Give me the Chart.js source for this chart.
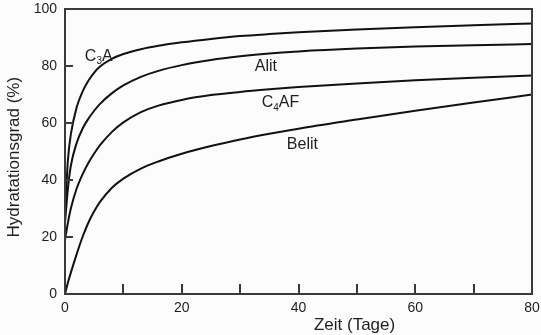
<!DOCTYPE html>
<html>
<head>
<meta charset="utf-8">
<script src="https://cdn.jsdelivr.net/npm/chart.js@4.4.1/dist/chart.umd.min.js"></script>
<style>
  html, body { margin: 0; background: #fcfcfc; }
  #wrap { width: 541px; height: 335px; }
</style>
</head>
<body>
<div id="wrap"><canvas id="chart"></canvas></div>
<script>
// Hydratationsgrad der Klinkerphasen über die Zeit
const days  = [0, 0.5, 1, 2, 3, 4, 5, 6, 8, 10, 13, 16, 20, 25, 30, 35, 40, 50, 60, 70, 80];
const c3a   = [28, 47, 56, 65.5, 71, 74.8, 77.7, 79.8, 82.5, 84.2, 85.9, 87.1, 88.3, 89.5, 90.5, 91.2, 91.8, 92.8, 93.6, 94.3, 94.9];
const alit  = [25, 37, 45, 53, 58, 61.5, 64.3, 66.7, 70.4, 73.2, 76.2, 78.3, 80.3, 82.1, 83.4, 84.4, 85.1, 86.1, 86.8, 87.3, 87.7];
const c4af  = [19, 25, 30, 37, 42, 46, 49.3, 52.2, 56.8, 60.2, 63.8, 66.1, 68.1, 69.8, 70.9, 71.8, 72.6, 73.9, 75, 75.9, 76.7];
const belit = [0, 4, 7.5, 14, 20, 25, 29, 32.3, 37.2, 40.5, 44, 46.5, 49.2, 51.9, 54.2, 56.2, 58, 61.2, 64.3, 67.2, 70];

const xTicks = [0, 10, 20, 30, 40, 50, 60, 70, 80];
const xLabels = [0, 20, 40, 60, 80];
const yTicks = [0, 20, 40, 60, 80, 100];

const FONT = "'Liberation Sans', Arial, sans-serif";
const INK = '#1e1e1e';
const AXIS = '#3a3a3a';

const toPoints = vals => vals.map((v, i) => ({ x: days[i], y: v }));

function curve(label, vals) {
  return {
    label,
    data: toPoints(vals),
    showLine: true,
    borderColor: '#111',
    borderWidth: 2,
    pointRadius: 0,
    cubicInterpolationMode: 'monotone',
    fill: false,
  };
}

// text next to each curve, subscripts marked with a flag
const curveLabels = [
  { parts: [['C', 0], ['3', 1], ['A', 0]], day: 3.4, val: 83.3 },
  { parts: [['Alit', 0]], day: 32.5, val: 79.8 },
  { parts: [['C', 0], ['4', 1], ['AF', 0]], day: 33.7, val: 67 },
  { parts: [['Belit', 0]], day: 38, val: 52.3 },
];

// let edge tick labels overhang instead of shrinking the plot
const noEdgePadding = s => {
  s.paddingTop = 0;
  s.paddingBottom = 0;
  s.paddingLeft = 0;
  s.paddingRight = 0;
};

const framePlugin = {
  id: 'frame',
  afterDraw(chart) {
    const { ctx, chartArea: a, scales: { x, y } } = chart;
    ctx.save();
    ctx.strokeStyle = AXIS;
    ctx.lineWidth = 2;
    ctx.strokeRect(a.left, a.top, a.right - a.left, a.bottom - a.top);

    // inward tick marks
    ctx.beginPath();
    xTicks.forEach(v => {
      const px = Math.round(x.getPixelForValue(v));
      ctx.moveTo(px, a.bottom);
      ctx.lineTo(px, a.bottom - 10);
    });
    yTicks.forEach(v => {
      const py = Math.round(y.getPixelForValue(v));
      ctx.moveTo(a.left, py);
      ctx.lineTo(a.left + 8, py);
    });
    ctx.stroke();

    // curve names
    ctx.fillStyle = INK;
    ctx.textBaseline = 'middle';
    curveLabels.forEach(l => {
      let px = x.getPixelForValue(l.day);
      const py = y.getPixelForValue(l.val);
      l.parts.forEach(([s, sub]) => {
        ctx.font = (sub ? '10px ' : '16px ') + FONT;
        ctx.fillText(s, px, sub ? py + 5 : py);
        px += ctx.measureText(s).width;
      });
    });

    // axis titles
    ctx.font = '17px ' + FONT;
    ctx.textAlign = 'center';
    ctx.fillText('Zeit (Tage)', a.left + (a.right - a.left) * 0.62, 325);
    ctx.translate(14, a.top + (a.bottom - a.top) * 0.52);
    ctx.rotate(-Math.PI / 2);
    ctx.fillText('Hydratationsgrad (%)', 0, 0);
    ctx.restore();
  },
};

new Chart(document.getElementById('chart'), {
  type: 'scatter',
  data: {
    datasets: [
      curve('C3A', c3a),
      curve('Alit', alit),
      curve('C4AF', c4af),
      curve('Belit', belit),
    ],
  },
  options: {
    responsive: true,
    maintainAspectRatio: false,
    animation: false,
    layout: { padding: { top: 9, right: 9, left: 0, bottom: 0 } },
    plugins: { legend: { display: false }, tooltip: { enabled: false } },
    scales: {
      x: {
        type: 'linear',
        min: 0,
        max: 80,
        afterBuildTicks: s => { s.ticks = xTicks.map(v => ({ value: v })); },
        afterFit: s => { s.height = 41; noEdgePadding(s); },
        ticks: {
          color: INK,
          font: { family: FONT, size: 14 },
          padding: 6,
          maxRotation: 0,
          autoSkip: false,
          callback: v => (xLabels.includes(v) ? String(v) : ''),
        },
        grid: { display: false, drawTicks: false, tickLength: 0 },
        border: { display: false },
      },
      y: {
        min: 0,
        max: 100,
        afterBuildTicks: s => { s.ticks = yTicks.map(v => ({ value: v })); },
        afterFit: s => { s.width = 65; noEdgePadding(s); },
        ticks: {
          color: INK,
          font: { family: FONT, size: 14 },
          padding: 8,
        },
        grid: { display: false, drawTicks: false, tickLength: 0 },
        border: { display: false },
      },
    },
  },
  plugins: [framePlugin],
});
</script>
</body>
</html>
